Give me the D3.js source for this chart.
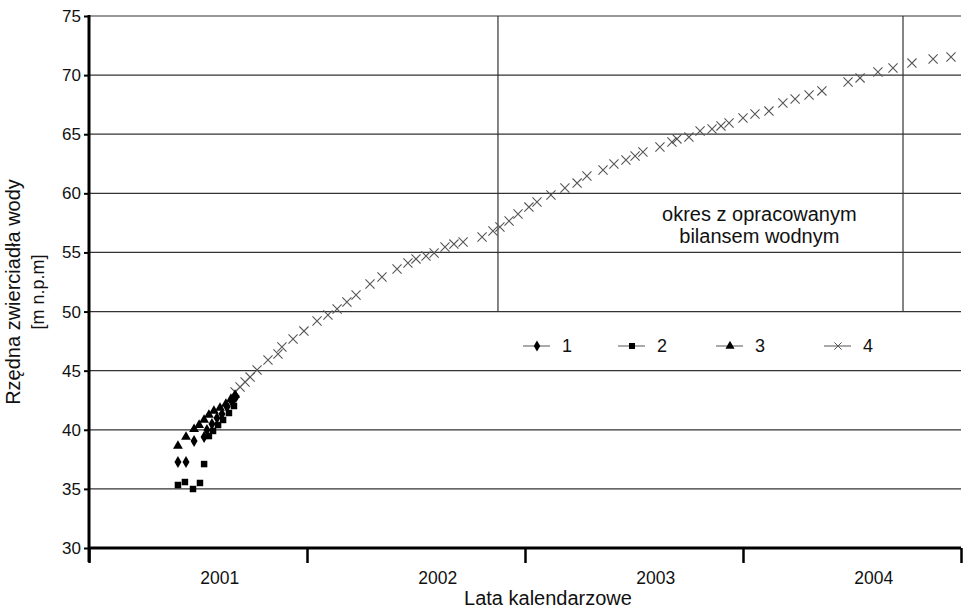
<!DOCTYPE html>
<html><head><meta charset="utf-8">
<script src="https://cdn.jsdelivr.net/npm/d3@7"></script>
<style>body{margin:0;background:#fff}svg{display:block;font-family:"Liberation Sans",Arial,sans-serif}</style>
</head><body><svg id="c" width="971" height="610"></svg>
<script>
// ---- data ----
const yTicks = [30,35,40,45,50,55,60,65,70,75];
const xTickYears = [2001,2002,2003,2004,2005];
const yearLabels = ["2001","2002","2003","2004"];
const balancePeriod = [2002.876, 2004.734];
const balanceText = ["okres z opracowanym","bilansem wodnym"];
const legendLabels = ["1","2","3","4"];

const s1x = [2001.408,2001.445,2001.482,2001.528,2001.541,2001.564,2001.587,2001.610,2001.633,2001.656,2001.674];
const s1y = [37.27,37.27,39.05,39.39,39.98,40.49,41.00,41.33,41.93,42.35,42.77];
const s2x = [2001.408,2001.440,2001.477,2001.509,2001.528,2001.550,2001.569,2001.592,2001.615,2001.642,2001.665];
const s2y = [35.33,35.58,34.99,35.50,37.10,39.47,39.90,40.40,40.83,41.42,42.01];
const s3x = [2001.408,2001.445,2001.482,2001.505,2001.528,2001.550,2001.573,2001.601,2001.628,2001.651,2001.670];
const s3y = [38.63,39.39,40.06,40.40,40.83,41.25,41.59,41.84,42.18,42.60,42.94];
const s4x = [2001.670,2001.693,2001.716,2001.739,2001.771,2001.821,2001.867,2001.885,2001.936,2001.986,
  2002.046,2002.096,2002.138,2002.183,2002.225,2002.289,2002.344,2002.413,2002.463,2002.500,
  2002.546,2002.583,2002.633,2002.674,2002.716,2002.803,2002.853,2002.885,2002.927,2002.968,
  2003.018,2003.055,2003.119,2003.183,2003.239,2003.284,2003.358,2003.408,2003.463,2003.505,
  2003.541,2003.619,2003.674,2003.697,2003.752,2003.803,2003.858,2003.899,2003.936,2004.000,
  2004.055,2004.119,2004.183,2004.239,2004.303,2004.362,2004.482,2004.537,2004.619,2004.688,
  2004.775,2004.872,2004.954];
const s4y = [43.20,43.62,44.04,44.46,45.06,45.90,46.41,47.00,47.68,48.35,
  49.20,49.71,50.22,50.81,51.40,52.33,52.92,53.60,54.11,54.45,
  54.70,54.95,55.46,55.71,55.88,56.31,56.81,57.15,57.66,58.25,
  58.84,59.27,59.86,60.45,60.87,61.47,61.97,62.48,62.82,63.16,
  63.50,63.92,64.34,64.60,64.76,65.27,65.44,65.70,65.95,66.37,
  66.71,66.96,67.64,67.98,68.32,68.66,69.42,69.76,70.26,70.60,
  71.02,71.36,71.53];

// ---- chart ----
const svg = d3.select("#c");
const x = d3.scaleLinear().domain([2001,2005]).range([89,961]);
const y = d3.scaleLinear().domain([30,75]).range([548,16]);

// gridlines
svg.append("g").selectAll("line").data(yTicks.filter(d=>d>30)).join("line")
  .attr("x1",x(2001)).attr("x2",x(2005)).attr("y1",d=>y(d)).attr("y2",d=>y(d))
  .attr("stroke","#333").attr("stroke-width",1.2);

// balance period verticals
svg.append("g").selectAll("line").data(balancePeriod).join("line")
  .attr("x1",d=>x(d)).attr("x2",d=>x(d)).attr("y1",y(75)).attr("y2",y(50))
  .attr("stroke","#333").attr("stroke-width",1.2);
const bx = x(2004.075);
svg.append("g").selectAll("text").data(balanceText).join("text")
  .attr("x",bx).attr("y",(d,i)=>221+i*22).attr("text-anchor","middle")
  .attr("font-size",20).attr("fill","#111").text(d=>d);

// y axis
const yAxis = d3.axisLeft(y).tickValues(yTicks).tickSize(5).tickPadding(3);
const gy = svg.append("g").attr("transform",`translate(${x(2001)},0)`).call(yAxis);
gy.select(".domain").remove();
gy.selectAll(".tick line").attr("stroke","#000").attr("stroke-width",2);
gy.selectAll(".tick text").attr("font-size",17).attr("fill","#111").attr("font-family","Liberation Sans, Arial, sans-serif");
svg.append("line").attr("x1",x(2001)).attr("x2",x(2001)).attr("y1",y(75)-1).attr("y2",562)
  .attr("stroke","#000").attr("stroke-width",3);

// x axis
const xAxis = d3.axisBottom(x).tickValues(xTickYears).tickSize(15).tickFormat("");
const gx = svg.append("g").attr("transform",`translate(0,${y(30)})`).call(xAxis);
gx.select(".domain").remove();
gx.selectAll(".tick line").attr("stroke","#000").attr("stroke-width",2.5);
svg.append("line").attr("x1",x(2001)).attr("x2",x(2005)).attr("y1",y(30)).attr("y2",y(30))
  .attr("stroke","#000").attr("stroke-width",3);
svg.append("g").selectAll("text").data(yearLabels).join("text")
  .attr("x",d=>x(+d+0.6)).attr("y",584).attr("text-anchor","middle")
  .attr("font-size",17.5).attr("fill","#111").text(d=>d);

// axis titles
svg.append("text").attr("x",548).attr("y",605).attr("text-anchor","middle")
  .attr("font-size",20).attr("fill","#111").text("Lata kalendarzowe");
svg.append("text").attr("transform","translate(20,292) rotate(-90)").attr("text-anchor","middle")
  .attr("font-size",20).attr("fill","#111").text("Rzędna zwierciadła wody");
svg.append("text").attr("transform","translate(44,292) rotate(-90)").attr("text-anchor","middle")
  .attr("font-size",18).attr("fill","#111").text("[m n.p.m]");

// series
const series = [
  {xs:s1x, ys:s1y, sym:d3.symbolDiamond, size:42, fill:"#000", stroke:"none"},
  {xs:s2x, ys:s2y, sym:d3.symbolSquare, size:42, fill:"#000", stroke:"none"},
  {xs:s3x, ys:s3y, sym:d3.symbolTriangle, size:42, fill:"#000", stroke:"none"},
  {xs:s4x, ys:s4y, sym:d3.symbolX, size:56, fill:"none", stroke:"#555"}
];
series.slice().reverse().forEach(s=>{
  svg.append("g").selectAll("path").data(s.xs.map((v,i)=>[v,s.ys[i]])).join("path")
    .attr("transform",d=>`translate(${x(d[0])},${y(d[1])})`)
    .attr("d",d3.symbol(s.sym,s.size))
    .attr("fill",s.fill).attr("stroke",s.stroke).attr("stroke-width",1.1);
});

// legend
const legX = [537,632,730,838];
const lg = svg.append("g").selectAll("g").data(legendLabels).join("g")
  .attr("transform",(d,i)=>`translate(${legX[i]},346)`);
lg.append("line").attr("x1",-14).attr("x2",13).attr("stroke","#555").attr("stroke-width",1);
lg.append("path").attr("d",(d,i)=>d3.symbol(series[i].sym,36)())
  .attr("fill",(d,i)=>series[i].fill).attr("stroke",(d,i)=>series[i].stroke).attr("stroke-width",1);
lg.append("text").attr("x",25).attr("y",6).attr("font-size",18).attr("fill","#111").text(d=>d);
</script></body></html>
